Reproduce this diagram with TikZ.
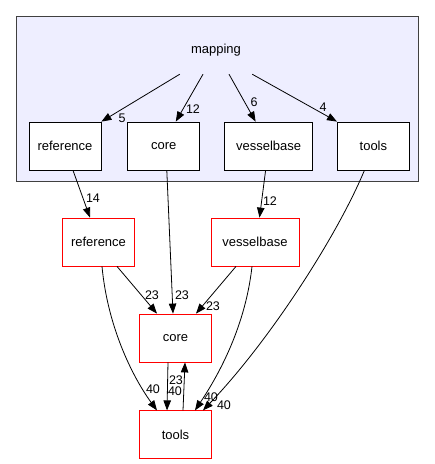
\documentclass[tikz,border=0pt]{standalone}
\usepackage{fontspec}
\setmainfont{Liberation Sans}
\usetikzlibrary{arrows.meta,positioning}

\begin{document}
\begin{tikzpicture}[
    x=1pt, y=-1pt,
    dir/.style={rectangle, draw, fill=white, line width=0.8pt, minimum width=72pt, minimum height=48pt, inner sep=2pt, font=\fontsize{13}{15}\selectfont},
    extdir/.style={dir, draw=red},
    count/.style={inner sep=0pt, font=\fontsize{12.5}{14}\selectfont},
    arrow/.style={-{Triangle[length=10pt, width=7.5pt]}, line width=0.8pt}
]
\useasboundingbox (0,0) rectangle (435,464);

% Cluster of the mapping directory
\draw[fill={rgb,255:red,238;green,238;blue,255}, draw={rgb,255:red,64;green,64;blue,64}, line width=0.9pt] (16,16) rectangle (418,181);
\node[minimum width=72pt, minimum height=48pt, font=\fontsize{13}{15}\selectfont] (mapping) at (216,50) {mapping};

% Subdirectories inside the cluster
\node[dir] (iref) at (65,146) {reference};
\node[dir, right=26pt of iref] (icore) {core};
\node[dir, minimum width=88pt, right=24pt of icore] (ives) {vesselbase};
\node[dir, right=24pt of ives] (itools) {tools};

% Directories outside the cluster
\node[extdir] (ref) at (98.5,242) {reference};
\node[extdir, minimum width=88pt] (ves) at (255,242) {vesselbase};
\node[extdir] (core) at (175.5,338) {core};
\node[extdir, below=48pt of core] (tools) {tools};

% Edges from mapping
\draw[arrow] (mapping.south west) -- (iref.north east) node[count] at (122,118) {5};
\draw[arrow] ([xshift=-13pt]mapping.south) -- ([xshift=12pt]icore.north) node[count] at (193,109) {12};
\draw[arrow] ([xshift=13pt]mapping.south) -- ([xshift=-13pt]ives.north) node[count] at (254,102) {6};
\draw[arrow] (mapping.south east) -- (itools.north west) node[count] at (323,107) {4};

% Edges leaving the cluster
\draw[arrow] ([xshift=8pt]iref.south) -- ([xshift=-8.5pt]ref.north) node[count] at (93,198) {14};
\draw[arrow] ([xshift=3pt]icore.south) -- ([xshift=-2.5pt]core.north) node[count] at (182,295) {23};
\draw[arrow] ([xshift=-3pt]ives.south) -- ([xshift=4.5pt]ves.north) node[count] at (270,201) {12};
\draw[arrow] ([xshift=-9pt]itools.south) .. controls +(-27,65) and +(67,-70) .. ([xshift=27.5pt]tools.north) node[count] at (224,405) {40};

% Edges between the outer directories
\draw[arrow] ([xshift=18.5pt]ref.south) -- ([xshift=-18.5pt]core.north) node[count] at (152,295) {23};
\draw[arrow] ([xshift=3.5pt]ref.south) .. controls +(6,64) and +(-22,-30) .. ([xshift=-18.5pt]tools.north) node[count] at (153,389) {40};
\draw[arrow] ([xshift=-19pt]ves.south) -- ([xshift=20.5pt]core.north) node[count] at (213,306) {23};
\draw[arrow] ([xshift=-3pt]ves.south) .. controls +(-7,64) and +(20,-30) .. ([xshift=19.5pt]tools.north) node[count] at (211,397) {40};
\draw[arrow] ([xshift=-7.5pt]core.south) -- ([xshift=-8.5pt]tools.north) node[count] at (175,391) {40};
\draw[arrow] ([xshift=7.5pt]tools.north) -- ([xshift=9.5pt]core.south) node[count] at (176,380) {23};
\end{tikzpicture}
\end{document}
